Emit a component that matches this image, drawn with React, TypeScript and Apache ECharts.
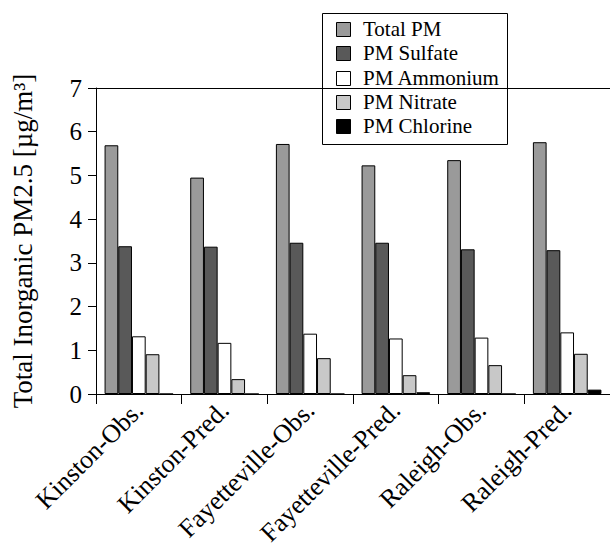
import React, { useEffect, useRef } from "react";
import * as echarts from "echarts";

const categories = [
  "Kinston-Obs.",
  "Kinston-Pred.",
  "Fayetteville-Obs.",
  "Fayetteville-Pred.",
  "Raleigh-Obs.",
  "Raleigh-Pred.",
];
const seriesNames = ["Total PM", "PM Sulfate", "PM Ammonium", "PM Nitrate", "PM Chlorine"];
const totalPM = [5.69, 4.95, 5.72, 5.23, 5.35, 5.76];
const pmSulfate = [3.38, 3.37, 3.46, 3.46, 3.31, 3.29];
const pmAmmonium = [1.32, 1.17, 1.38, 1.27, 1.29, 1.41];
const pmNitrate = [0.91, 0.34, 0.82, 0.43, 0.66, 0.92];
const pmChlorine = [0, 0, 0, 0.04, 0, 0.1];
const yTicks = [0, 1, 2, 3, 4, 5, 6, 7];

const colors = ["#9a9a9a", "#595959", "#ffffff", "#c8c8c8", "#000000"];
const FONT = "'Liberation Serif', 'Times New Roman', serif";

export default function App() {
  const ref = useRef<HTMLDivElement>(null);
  useEffect(() => {
    if (!ref.current) return;
    const chart = echarts.init(ref.current, undefined, { renderer: "svg" });
    const values = [totalPM, pmSulfate, pmAmmonium, pmNitrate, pmChlorine];

    // legend drawn as graphic elements (box, swatches, labels)
    const legendLeft = 322.5;
    const legendTop = 13.5;
    const rowStart = 29;
    const rowStep = 24.25;
    const legendChildren: any[] = [
      {
        type: "rect",
        shape: { x: legendLeft, y: legendTop, width: 185, height: 131 },
        style: { fill: "#ffffff", stroke: "#000000", lineWidth: 1 },
      },
    ];
    seriesNames.forEach((name, i) => {
      const cy = rowStart + i * rowStep;
      legendChildren.push({
        type: "rect",
        shape: { x: 336.5, y: Math.round(cy - 7) + 0.5, width: 14, height: 14 },
        style: { fill: colors[i], stroke: "#000000", lineWidth: 1 },
      });
      legendChildren.push({
        type: "text",
        x: 363,
        y: cy,
        style: {
          text: name,
          fontFamily: FONT,
          fontSize: 21,
          fill: "#000000",
          verticalAlign: "middle",
          align: "left",
        },
      });
    });

    chart.setOption({
      animation: false,
      textStyle: { fontFamily: FONT },
      grid: { left: 96, top: 88, right: 0, bottom: 150, outerBoundsMode: "none" },
      graphic: [{ type: "group", z: 100, children: legendChildren }],
      xAxis: [
        {
          type: "category",
          data: categories,
          position: "bottom",
          axisLine: { show: true, lineStyle: { color: "#000", width: 1 } },
          axisTick: { show: true, length: 10, lineStyle: { color: "#000" } },
          axisLabel: {
            rotate: 45,
            margin: 12,
            fontFamily: FONT,
            fontSize: 26,
            color: "#000",
            interval: 0,
          },
          splitLine: { show: false },
        },
        {
          type: "category",
          data: categories,
          position: "top",
          axisLine: { show: true, lineStyle: { color: "#000", width: 1 } },
          axisTick: { show: false },
          axisLabel: { show: false },
          splitLine: { show: false },
        },
      ],
      yAxis: {
        type: "value",
        min: yTicks[0],
        max: yTicks[yTicks.length - 1],
        interval: 1,
        name: "Total Inorganic PM2.5 [µg/m³]",
        nameLocation: "middle",
        nameGap: 60,
        nameTextStyle: { fontFamily: FONT, fontSize: 27, color: "#000" },
        axisLine: { show: true, lineStyle: { color: "#000", width: 1 } },
        axisTick: { show: true, length: 8, lineStyle: { color: "#000" } },
        axisLabel: { margin: 14, fontFamily: FONT, fontSize: 25, color: "#000" },
        splitLine: { show: false },
      },
      series: seriesNames.map((name, i) => ({
        name,
        type: "bar",
        data: values[i],
        barGap: "0%",
        barCategoryGap: "20%",
        itemStyle: { color: colors[i], borderColor: "#000", borderWidth: 1 },
      })),
    });
    return () => chart.dispose();
  }, []);
  return (
    <div
      ref={ref}
      style={{ position: "fixed", left: 0, top: 0, width: 610, height: 544, background: "#fff" }}
    />
  );
}
